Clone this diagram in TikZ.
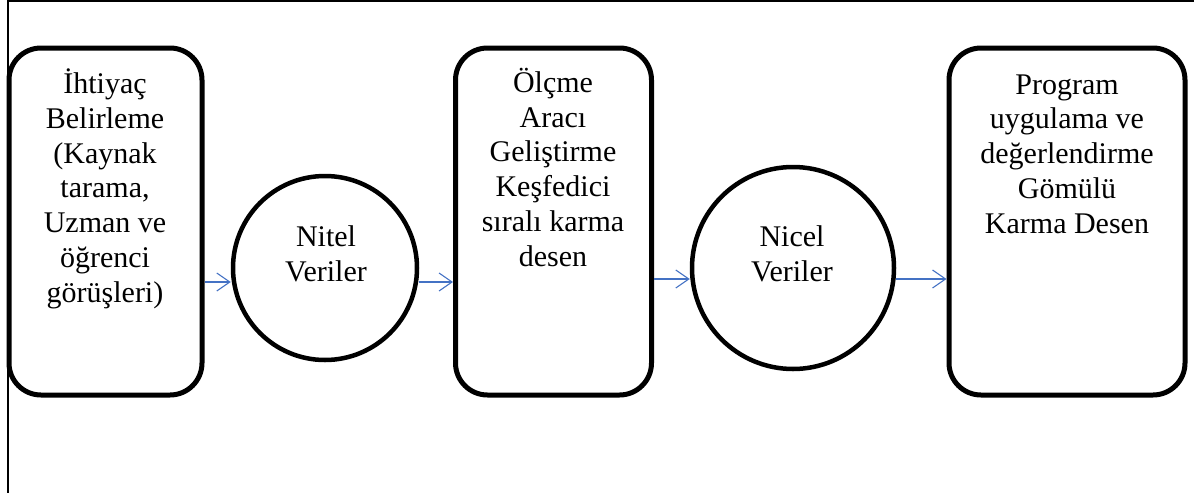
\documentclass[tikz,border=0pt]{standalone}
\usepackage{fontspec}
\setmainfont{Liberation Serif}
\usetikzlibrary{arrows.meta}
\definecolor{arrblue}{RGB}{68,114,196}
\begin{document}
\begin{tikzpicture}[x=1pt,y=-1pt,
  stage/.style={draw, line width=5pt, rounded corners=32pt, inner sep=0pt},
  datacirc/.style={draw, circle, line width=4.5pt, inner sep=0pt},
  txt/.style={align=center, anchor=base, inner sep=0pt, font=\fontsize{30}{34.7}\selectfont},
  flow/.style={draw=arrblue, line width=1.1pt, -{Straight Barb[length=13pt,width=18pt,line width=1.1pt]}},
  frameline/.style={line width=2pt}]
\useasboundingbox (0,0) rectangle (1194,493);
% frame
\coordinate (ftop) at (1194,1);
\coordinate (fcorner) at (8,1);
\coordinate (fbot) at (8,493);
\draw[frameline] (ftop) -- (fcorner) -- (fbot);
% stages
\node[stage, minimum width=193pt, minimum height=347pt] (b1) at (105.5,221.5) {};
\node[stage, minimum width=196pt, minimum height=347pt] (b2) at (553.5,221.5) {};
\node[stage, minimum width=236pt, minimum height=347pt] (b3) at (1067,221.5) {};
\node[datacirc, minimum size=184pt] (c1) at (325,268) {};
\node[datacirc, minimum size=202pt] (c2) at (793,268) {};
% texts (anchor base = last line baseline)
\node[txt] (t1) at (105,302) {İhtiyaç\\Belirleme\\(Kaynak\\tarama,\\Uzman ve\\öğrenci\\görüşleri)};
\node[txt] (t2) at (553,266) {Ölçme\\Aracı\\Geliştirme\\Keşfedici\\sıralı karma\\desen};
\node[txt] (t3) at (1067,233) {Program\\uygulama ve\\değerlendirme\\Gömülü\\Karma Desen};
\node[txt] (tc1) at (326,281) {Nitel\\Veriler};
\node[txt] (tc2) at (792,281) {Nicel\\Veriler};
% arrows
\draw[flow] (b1.east |- 0,282) -- (c1.west |- 0,282);
\draw[flow] (c1.east |- 0,282) -- (b2.west |- 0,282);
\draw[flow] (b2.east |- 0,279) -- (c2.west |- 0,279);
\draw[flow] (c2.east |- 0,279) -- (b3.west |- 0,279);
\end{tikzpicture}
\end{document}
